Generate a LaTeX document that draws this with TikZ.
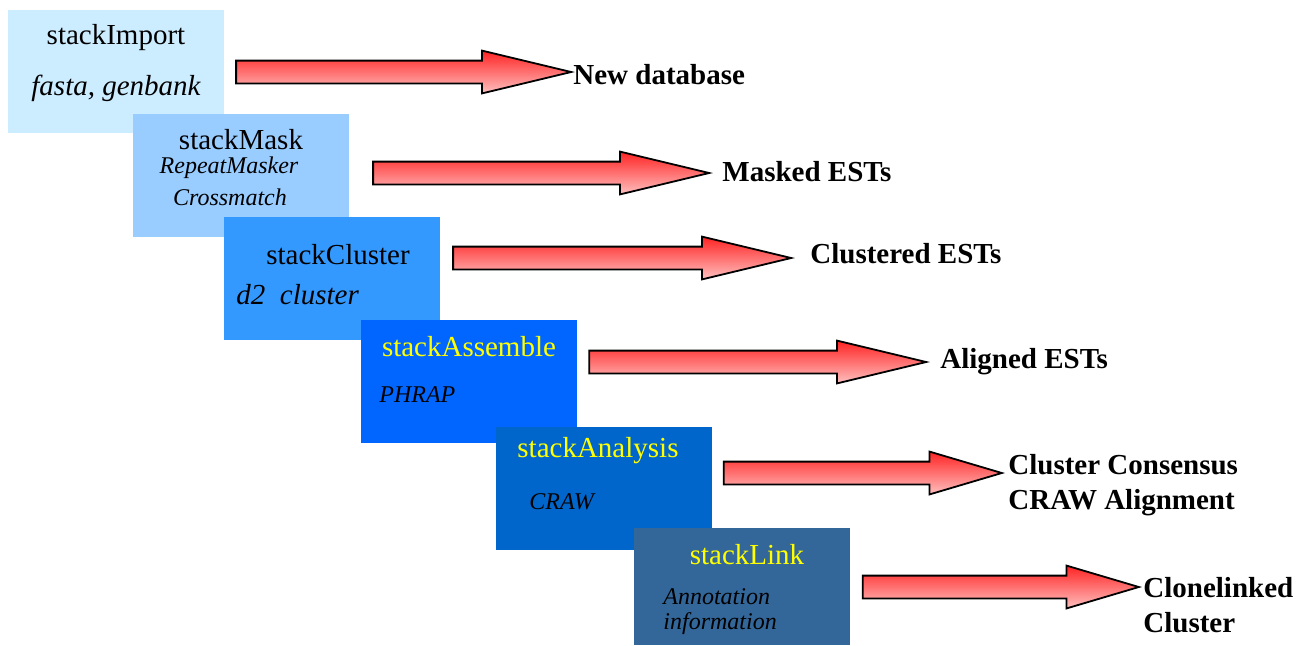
\documentclass[tikz,border=0pt]{standalone}
\usepackage{fontspec}
\setmainfont{Liberation Serif}
\usepackage{tikz}
\usetikzlibrary{shapes.arrows}

\definecolor{importblue}{RGB}{204,236,255}
\definecolor{maskblue}{RGB}{153,204,255}
\definecolor{clusterblue}{RGB}{51,153,255}
\definecolor{assembleblue}{RGB}{0,102,255}
\definecolor{analysisblue}{RGB}{0,102,204}
\definecolor{linkblue}{RGB}{51,102,153}
\definecolor{titleyellow}{RGB}{255,255,0}
\definecolor{arrowtop}{RGB}{255,35,35}
\definecolor{arrowbottom}{RGB}{255,192,192}

\begin{document}
\begin{tikzpicture}[x = .5pt, y = -.5pt,
    stage/.style = {anchor=north west, inner sep=0, minimum width=108pt, minimum height=61.5pt},
    title/.style = {inner sep=0, font=\fontsize{14.5}{17}\selectfont},
    tool/.style = {inner sep=0, font=\fontsize{12}{14.5}\selectfont\itshape},
    result/.style = {inner sep=0, anchor=west, align=left, font=\fontsize{14.5}{17.2}\selectfont\bfseries},
    bigarrow/.style = {single arrow, anchor=tip, draw=black, line width=.9pt,
      top color=arrowtop, bottom color=arrowbottom, inner xsep=0pt, inner ysep=5.25pt,
      single arrow head extend=5pt, single arrow tip angle=27}]
  \useasboundingbox (0,0) rectangle (1302,645);

  % the six stages, each one lying over the one before
  \node[stage, fill=importblue] (import) at (8,10) {};
  \node[title] (importT) at (116,38) {stackImport};
  \node[title, font=\fontsize{14.5}{17}\selectfont\itshape] (importS) at (116,88) {fasta, genbank};

  \node[stage, fill=maskblue] (mask) at (133,114) {};
  \node[title] (maskT) at (241,140) {stackMask};
  \node[tool] (maskS1) at (229,168) {RepeatMasker};
  \node[tool] (maskS2) at (230,197) {Crossmatch};

  \node[stage, fill=clusterblue] (cluster) at (224,217) {};
  \node[title] (clusterT) at (338,255) {stackCluster};
  \node[title, anchor=west, font=\fontsize{14.5}{17}\selectfont\itshape] (clusterS) at (236,295) {d2\ \ cluster};

  \node[stage, fill=assembleblue] (assemble) at (361,320) {};
  \node[title, text=titleyellow] (assembleT) at (469,347) {stackAssemble};
  \node[tool, anchor=west] (assembleS) at (379,395) {PHRAP};

  \node[stage, fill=analysisblue] (analysis) at (496,427) {};
  \node[title, text=titleyellow] (analysisT) at (598,451) {stackAnalysis};
  \node[tool, anchor=west] (analysisS) at (529,502) {CRAW};

  \node[stage, fill=linkblue, minimum height=58.5pt] (link) at (634,528) {};
  \node[title, text=titleyellow] (linkT) at (747,555) {stackLink};
  \node[tool, anchor=west] (linkS1) at (663,597) {Annotation};
  \node[tool, anchor=west] (linkS2) at (663,624) {information};

  % arrows and what comes out of each stage
  \node[bigarrow, minimum height=167.5pt] (importA) at (575,72) {};
  \node[bigarrow, minimum height=168pt] (maskA) at (713,173) {};
  \node[bigarrow, minimum height=169pt] (clusterA) at (795,258) {};
  \node[bigarrow, minimum height=168.5pt] (assembleA) at (930,362) {};
  \node[bigarrow, minimum height=139pt, single arrow tip angle=33] (analysisA) at (1005,473) {};
  \node[bigarrow, minimum height=138pt, single arrow tip angle=33] (linkA) at (1142,587) {};

  \node[result] (importR) at (573,75) {New database};
  \node[result] (maskR) at (722,172) {Masked ESTs};
  \node[result] (clusterR) at (810,254) {Clustered ESTs};
  \node[result] (assembleR) at (940,362) {Aligned ESTs};
  \node[result] (analysisR) at (1008,485) {Cluster Consensus\\CRAW Alignment};
  \node[result] (linkR) at (1143,605) {Clonelinked\\Cluster};
\end{tikzpicture}
\end{document}
